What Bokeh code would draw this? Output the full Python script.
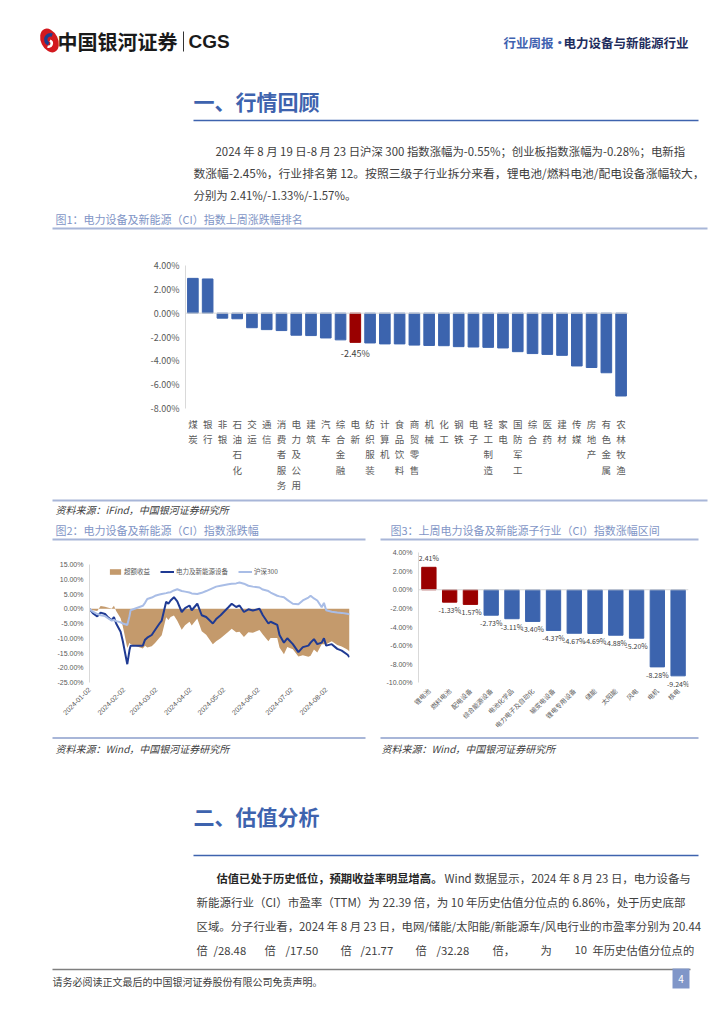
import math
import pandas as pd
from bokeh.plotting import figure
from bokeh.layouts import column, row
from bokeh.models import (Range1d, FactorRange, ColumnDataSource, FixedTicker, Span,
                          Legend, LegendItem, DatetimeTickFormatter)
from bokeh.core.properties import value
from bokeh.embed import file_html
from bokeh.resources import INLINE

FONT = "Noto Sans CJK SC"

# ---------------- data ----------------
# Fig 1: CITIC level-1 industries, weekly change (%)
ind_names = ["煤炭", "银行", "非银", "石油石化", "交运", "通信", "消费者服务", "电力及公用", "建筑", "汽车",
             "综合金融", "电新", "纺织服装", "计算机", "食品饮料", "商贸零售", "机械", "化工", "钢铁", "电子",
             "轻工制造", "家电", "国防军工", "综合", "医药", "建材", "传媒", "房地产", "有色金属", "农林牧渔"]
ind_chg = [2.92, 2.87, -0.42, -0.47, -1.22, -1.38, -1.46, -1.85, -1.88, -2.08,
           -2.24, -2.45, -2.50, -2.58, -2.58, -2.68, -2.71, -2.73, -2.81, -2.84,
           -2.87, -2.92, -3.23, -3.39, -3.46, -3.54, -4.43, -4.56, -5.00, -6.95]
highlight_name = "电新"

# Fig 2: cumulative change (%) since 2024-01-02
dates = ["2024-01-02", "2024-01-05", "2024-01-09", "2024-01-12", "2024-01-16", "2024-01-19", "2024-01-22",
         "2024-01-24", "2024-01-26", "2024-01-30", "2024-02-01", "2024-02-05", "2024-02-07", "2024-02-08",
         "2024-02-19", "2024-02-21", "2024-02-23", "2024-02-27", "2024-03-01", "2024-03-05", "2024-03-07",
         "2024-03-11", "2024-03-13", "2024-03-15", "2024-03-18", "2024-03-21", "2024-03-25", "2024-03-28",
         "2024-04-01", "2024-04-03", "2024-04-08", "2024-04-12", "2024-04-16", "2024-04-22", "2024-04-25",
         "2024-04-29", "2024-05-06", "2024-05-09", "2024-05-13", "2024-05-16", "2024-05-20", "2024-05-24",
         "2024-05-28", "2024-06-03", "2024-06-06", "2024-06-11", "2024-06-13", "2024-06-19", "2024-06-21",
         "2024-06-25", "2024-06-28", "2024-07-03", "2024-07-08", "2024-07-12", "2024-07-17", "2024-07-19",
         "2024-07-22", "2024-07-25", "2024-07-29", "2024-07-31", "2024-08-02", "2024-08-07", "2024-08-12",
         "2024-08-16", "2024-08-21", "2024-08-23"]
hs300 = [0, -1.0, -1.8, -2.2, -2.5, -3.3, -4.0, -3.8, -4.2, -4.6, -5.0, -5.5, -2.5, -0.5,
         1.0, 2.0, 3.3, 3.8, 4.4, 4.8, 5.0, 5.3, 5.5, 5.6, 6.2, 6.6, 6.0, 5.8,
         5.5, 5.2, 5.0, 5.4, 6.0, 7.0, 7.5, 7.8, 8.3, 8.5, 8.6, 8.9, 8.5, 7.8,
         7.5, 7.2, 6.5, 6.0, 5.5, 4.4, 4.2, 3.9, 3.0, 1.7, 1.5, 2.8, 3.8, 4.4,
         3.5, 2.8, 0.5, 2.0, -0.5, -1.0, -1.3, -1.4, -1.7, -1.9]
dianxin = [0, -1.5, -2.6, -1.3, -1.8, -3.0, -3.9, -2.8, -5.0, -7.8, -11.0, -18.8, -14.0, -12.5,
           -12.5, -10.5, -9.8, -8.9, -7.2, -5.0, -4.0, 2.4, 1.7, 2.8, 3.9, 2.5, -1.1, 0.2,
           1.1, -0.5, 1.7, -2.2, -2.8, -5.0, -3.5, -2.2, 0.5, 1.7, 0.6, 1.1, -1.1, -0.2,
           -0.6, 0.0, -2.2, -5.0, -4.4, -5.5, -8.9, -11.5, -10.0, -12.0, -14.7, -13.0, -12.5, -11.5,
           -10.3, -12.0, -11.5, -10.0, -12.5, -12.0, -13.6, -14.2, -15.5, -16.4]
series_names = ["超额收益", "电力及新能源设备", "沪深300"]
month_ticks = ["2024-01-02", "2024-02-02", "2024-03-02", "2024-04-02",
               "2024-05-02", "2024-06-02", "2024-07-02", "2024-08-02"]

# Fig 3: sub-industries weekly change (%)
sub_names = ["锂电池", "燃料电池", "配电设备", "综合能源设备", "电池化学品", "电力电子及自动化", "输变电设备",
             "锂电专用设备", "储能", "太阳能", "风电", "电机", "核电"]
sub_chg = [2.41, -1.33, -1.57, -2.73, -3.11, -3.40, -4.37, -4.67, -4.69, -4.88, -5.20, -8.28, -9.24]
top_n_red = 3

BLUE = "#3C64AE"
RED = "#9A0000"
AXIS = "#D9D9D9"
TICK = "#595959"
TITLE_BLUE = "#3E63AE"
CAP_BLUE = "#7F95C6"
CAP_LINE = "#A8B6D8"
BODY = "#404040"
W = 708
ROW_TOP, ROW_BOT = 545, 736


def page_fig(y0, y1, x0=0, x1=W):
    p = figure(width=x1 - x0, height=y1 - y0, x_range=Range1d(x0, x1), y_range=Range1d(y1, y0),
               output_backend="svg", toolbar_location=None, x_axis_type=None, y_axis_type=None,
               min_border=0)
    p.grid.visible = False
    p.outline_line_color = None
    p.frame_align = False
    return p


def txt(p, x, y, s, size, color, style="normal", align="left", baseline="middle"):
    p.text(x=[x], y=[y], text=[s], text_font=value(FONT), text_font_size=f"{size}px",
           text_color=color, text_align=align, text_baseline=baseline, text_font_style=style)


def hline(p, x0, x1, y, color, w):
    p.segment(x0=[x0], y0=[y], x1=[x1], y1=[y], line_color=color, line_width=w)


def no_ticks(p):
    for ax in p.axis:
        ax.major_tick_line_color = None
        ax.minor_tick_line_color = None
        ax.major_tick_out = 0
        ax.major_tick_in = 0
        ax.minor_tick_out = 0
        ax.minor_tick_in = 0


# ---------------- top page block ----------------
top = page_fig(0, 238)
top.ellipse(x=[49], y=[40], width=17, height=25, angle=0.45, fill_color="#D3191F", line_color=None)
top.annular_wedge(x=[50], y=[39], inner_radius=3.0, outer_radius=6.5, start_angle=1.2, end_angle=4.3,
                  fill_color="#1D3F8F", line_color=None)
top.annular_wedge(x=[48], y=[43], inner_radius=2.0, outer_radius=4.5, start_angle=4.4, end_angle=7.4,
                  fill_color="white", line_color=None)
txt(top, 57, 41, "中国银河证券", 20, "#1A1A1A", "bold")
top.segment(x0=[183], y0=[31], x1=[183], y1=[51], line_color="#333333", line_width=1)
top.text(x=[188], y=[41], text=["CGS"], text_font=value("Liberation Sans"), text_font_size="19px",
         text_color="#1A1A1A", text_baseline="middle", text_font_style="bold")
txt(top, 503, 42, "行业周报·", 12.5, "#3F62B0", "bold")
txt(top, 563, 42, "电力设备与新能源行业", 12.5, "#1E2C5C", "bold")

txt(top, 193, 100, "一、行情回顾", 21, TITLE_BLUE, "bold")
hline(top, 193, 698, 120, TITLE_BLUE, 1.5)

txt(top, 215, 150, "2024 年 8 月 19 日-8 月 23 日沪深 300 指数涨幅为-0.55%；创业板指数涨幅为-0.28%；电新指", 11.4, BODY)
txt(top, 193, 172, "数涨幅-2.45%，行业排名第 12。按照三级子行业拆分来看，锂电池/燃料电池/配电设备涨幅较大，", 11.8, BODY)
txt(top, 193, 194, "分别为 2.41%/-1.33%/-1.57%。", 11.4, BODY)

txt(top, 55, 218, "图1：电力设备及新能源（CI）指数上周涨跌幅排名", 11, CAP_BLUE)
hline(top, 52, 707, 228, CAP_LINE, 2)

# ---------------- chart 1 ----------------
ind_factors = ["\n".join(n) for n in ind_names]
ind_colors = [RED if n == highlight_name else BLUE for n in ind_names]
src1 = ColumnDataSource(dict(x=ind_factors, top=ind_chg, color=ind_colors))

p1 = figure(width=W, height=257, x_range=FactorRange(*ind_factors), y_range=Range1d(-8, 4),
            output_backend="svg", toolbar_location=None)
p1.frame_align = False
p1.min_border_left = 185
p1.min_border_right = W - 628
p1.min_border_top = 27
p1.min_border_bottom = 81
p1.outline_line_color = None
p1.grid.visible = False
p1.vbar(x="x", top="top", width=0.72, color="color", source=src1)
p1.add_layout(Span(location=0, dimension="width", line_color=AXIS, line_width=1))
hi = ind_names.index(highlight_name)
p1.text(x=[ind_factors[hi]], y=[ind_chg[hi]], text=[f"{ind_chg[hi]:.2f}%"], y_offset=5,
        text_font=value(FONT), text_font_size="9px", text_color=BODY, text_align="center",
        text_baseline="top")
p1.yaxis.ticker = FixedTicker(ticks=[4, 2, 0, -2, -4, -6, -8])
p1.yaxis.major_label_overrides = {t: f"{t:.2f}%" for t in [4, 2, 0, -2, -4, -6, -8]}
p1.yaxis.axis_line_color = AXIS
p1.yaxis.major_label_text_font_size = "9px"
p1.yaxis.major_label_text_color = TICK
p1.yaxis.major_label_text_font = FONT
p1.yaxis.major_label_standoff = 6
p1.xaxis.axis_line_color = None
p1.xaxis.major_label_text_font_size = "9.5px"
p1.xaxis.major_label_text_color = TICK
p1.xaxis.major_label_text_font = FONT
p1.xaxis.major_label_standoff = 8
p1.xaxis.major_label_text_line_height = 1.1
no_ticks(p1)

# ---------------- middle page block ----------------
mid = page_fig(495, ROW_TOP)
hline(mid, 52, 707, 500, CAP_LINE, 2)
txt(mid, 55, 509, "资料来源：iFind，中国银河证券研究所", 10, BODY, "italic")
txt(mid, 55, 529, "图2：电力设备及新能源（CI）指数涨跌幅", 11, CAP_BLUE)
hline(mid, 52, 365, 539, CAP_LINE, 2)
txt(mid, 390, 529, "图3：上周电力设备及新能源子行业（CI）指数涨幅区间", 11, CAP_BLUE)
hline(mid, 380, 698, 539, CAP_LINE, 2)

# ---------------- chart 2 ----------------
dt = pd.to_datetime(dates)
excess = [d - h for d, h in zip(dianxin, hs300)]
src2 = ColumnDataSource(dict(date=dt, hs=hs300, dx=dianxin, ex=excess))
p2 = figure(width=370, height=ROW_BOT - ROW_TOP, x_axis_type="datetime",
            x_range=Range1d(dt[0], dt[-1]), y_range=Range1d(-25, 15),
            output_backend="svg", toolbar_location=None)
p2.frame_align = False
p2.min_border_left = 89
p2.min_border_right = 21
p2.min_border_top = 564 - ROW_TOP
p2.min_border_bottom = ROW_BOT - 682
p2.outline_line_color = None
p2.grid.visible = False
r_area = p2.varea(x="date", y1=0, y2="ex", source=src2, fill_color="#C49A6C")
r_dx = p2.line("date", "dx", source=src2, line_color="#1F3A93", line_width=2)
r_hs = p2.line("date", "hs", source=src2, line_color="#A9BDE6", line_width=2)
leg = Legend(items=[LegendItem(label=series_names[0], renderers=[r_area]),
                    LegendItem(label=series_names[1], renderers=[r_dx]),
                    LegendItem(label=series_names[2], renderers=[r_hs])],
             orientation="horizontal", location=(19, 106))
leg.label_text_font = FONT
leg.label_text_font_size = "6.5px"
leg.label_text_color = TICK
leg.glyph_width = 14
leg.glyph_height = 7
leg.label_height = 8
leg.label_standoff = 2
leg.spacing = 10
leg.padding = 1
leg.margin = 0
leg.background_fill_alpha = 0
leg.border_line_color = None
p2.add_layout(leg)
y2t = [15, 10, 5, 0, -5, -10, -15, -20, -25]
p2.yaxis.ticker = FixedTicker(ticks=y2t)
p2.yaxis.major_label_overrides = {t: f"{t:.2f}%" for t in y2t}
p2.yaxis.axis_line_color = AXIS
p2.yaxis.major_label_text_font_size = "7px"
p2.yaxis.major_label_text_color = TICK
p2.yaxis.major_label_standoff = 6
p2.xaxis.ticker = FixedTicker(ticks=[pd.Timestamp(d).value // 10**6 for d in month_ticks])
p2.xaxis.formatter = DatetimeTickFormatter(days="%Y-%m-%d", months="%Y-%m-%d", years="%Y-%m-%d",
                                           hours="%Y-%m-%d", minutes="%Y-%m-%d")
p2.xaxis.major_label_orientation = math.pi / 4
p2.xaxis.axis_line_color = None
p2.xaxis.major_label_text_font_size = "7px"
p2.xaxis.major_label_text_color = TICK
p2.xaxis.major_label_standoff = 6
no_ticks(p2)

# ---------------- chart 3 ----------------
sub_colors = [RED if i < top_n_red else BLUE for i in range(len(sub_names))]
sub_labels = [f"{v:.2f}%" for v in sub_chg]
src3 = ColumnDataSource(dict(x=sub_names, top=sub_chg, color=sub_colors, lab=sub_labels))
pos = ColumnDataSource(dict(x=[n for n, v in zip(sub_names, sub_chg) if v >= 0],
                            y=[v for v in sub_chg if v >= 0],
                            lab=[l for l, v in zip(sub_labels, sub_chg) if v >= 0]))
neg = ColumnDataSource(dict(x=[n for n, v in zip(sub_names, sub_chg) if v < 0],
                            y=[v for v in sub_chg if v < 0],
                            lab=[l for l, v in zip(sub_labels, sub_chg) if v < 0]))
p3 = figure(width=W - 370, height=ROW_BOT - ROW_TOP, x_range=FactorRange(*sub_names),
            y_range=Range1d(-10.6, 4), output_backend="svg", toolbar_location=None)
p3.frame_align = False
p3.min_border_left = 48
p3.min_border_right = 20
p3.min_border_top = 552 - ROW_TOP
p3.min_border_bottom = 48
p3.outline_line_color = None
p3.grid.visible = False
p3.vbar(x="x", top="top", width=0.69, color="color", source=src3)
p3.add_layout(Span(location=0, dimension="width", line_color=AXIS, line_width=1))
p3.text(x="x", y="y", text="lab", source=pos, y_offset=-4, text_font=value(FONT), text_font_size="7px",
        text_color=BODY, text_align="center", text_baseline="bottom")
p3.text(x="x", y="y", text="lab", source=neg, y_offset=3, text_font=value(FONT), text_font_size="7px",
        text_color=BODY, text_align="center", text_baseline="top")
y3t = [4, 2, 0, -2, -4, -6, -8, -10]
p3.yaxis.ticker = FixedTicker(ticks=y3t)
p3.yaxis.bounds = (-10, 4)
p3.yaxis.major_label_overrides = {t: f"{t:.2f}%" for t in y3t}
p3.yaxis.axis_line_color = AXIS
p3.yaxis.major_label_text_font_size = "7px"
p3.yaxis.major_label_text_color = TICK
p3.yaxis.major_label_standoff = 6
p3.xaxis.major_label_orientation = math.pi / 4
p3.xaxis.axis_line_color = None
p3.xaxis.major_label_text_font_size = "6.5px"
p3.xaxis.major_label_text_color = TICK
p3.xaxis.major_label_text_font = FONT
p3.xaxis.major_label_standoff = 1
no_ticks(p3)

# ---------------- bottom page block ----------------
bot = page_fig(ROW_BOT, 1008)
hline(bot, 52, 365, 737.5, CAP_LINE, 2)
hline(bot, 380, 698, 737.5, CAP_LINE, 2)
txt(bot, 55, 748, "资料来源：Wind，中国银河证券研究所", 10, BODY, "italic")
txt(bot, 381, 748, "资料来源：Wind，中国银河证券研究所", 10, BODY, "italic")
txt(bot, 193, 815, "二、估值分析", 21, TITLE_BLUE, "bold")
hline(bot, 193, 698, 855, TITLE_BLUE, 1.5)
txt(bot, 216, 877, "估值已处于历史低位，预期收益率明显增高。", 11.3, "#262626", "bold")
txt(bot, 444, 877, "Wind 数据显示，2024 年 8 月 23 日，电力设备与", 11.4, BODY)
txt(bot, 196, 901, "新能源行业（CI）市盈率（TTM）为 22.39 倍，为 10 年历史估值分位点的 6.86%，处于历史底部", 11.5, BODY)
txt(bot, 196, 925, "区域。分子行业看，2024 年 8 月 23 日，电网/储能/太阳能/新能源车/风电行业的市盈率分别为 20.44", 11.4, BODY)
line4_parts = ["倍", "/28.48", "倍", "/17.50", "倍", "/21.77", "倍", "/32.28", "倍，", "为", "10", "年历史估值分位点的"]
line4_x = [196, 213, 264, 285, 340, 360, 415, 436, 492, 540, 574, 592]
for s, x in zip(line4_parts, line4_x):
    txt(bot, x, 949, s, 11.3, BODY)
hline(bot, 52, 690, 969, "#7F7F7F", 1.5)
txt(bot, 52, 981, "请务必阅读正文最后的中国银河证券股份有限公司免责声明。", 10, BODY)
bot.rect(x=[680.5], y=[978], width=17, height=20, fill_color="#8096C8", line_color=None)
txt(bot, 680.5, 978, "4", 10, "white", align="center")

layout = column(top, p1, mid, row(p2, p3), bot)
open("out.html", "w").write(file_html(layout, INLINE))
